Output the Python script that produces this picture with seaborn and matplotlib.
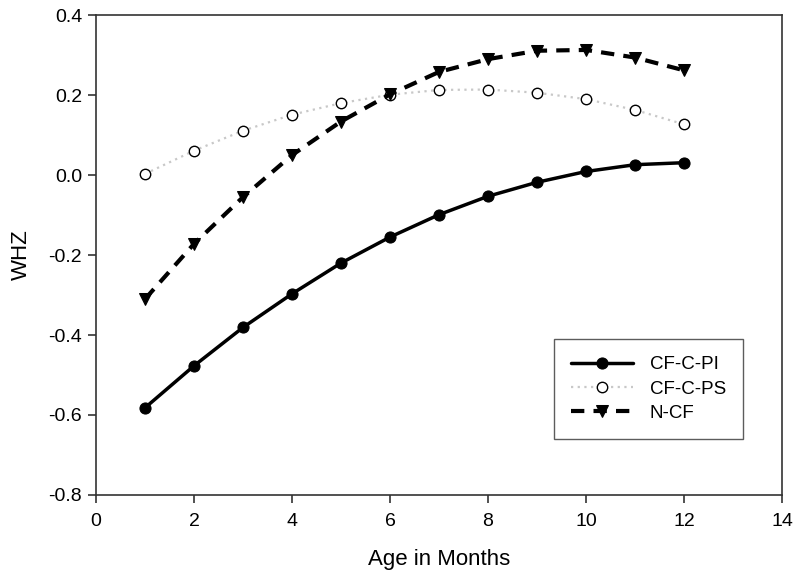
"""
WHZ by age in months for three groups
"""
import numpy as np
import pandas as pd
import matplotlib
matplotlib.use("Agg")
import matplotlib.pyplot as plt
import seaborn as sns

# Данные
age_months = [1, 2, 3, 4, 5, 6, 7, 8, 9, 10, 11, 12]
whz_cf_c_pi = [-0.582, -0.477, -0.381, -0.297, -0.220, -0.155, -0.099, -0.053, -0.018, 0.009, 0.026, 0.031]
whz_cf_c_ps = [0.003, 0.061, 0.111, 0.151, 0.180, 0.201, 0.213, 0.214, 0.206, 0.190, 0.163, 0.127]
whz_n_cf = [-0.310, -0.172, -0.055, 0.050, 0.134, 0.202, 0.258, 0.290, 0.311, 0.313, 0.294, 0.262]
group_names = ["CF-C-PI", "CF-C-PS", "N-CF"]
x_ticks = [0, 2, 4, 6, 8, 10, 12, 14]
y_ticks = [-0.8, -0.6, -0.4, -0.2, 0.0, 0.2, 0.4]

sns.set_style("ticks")
plt.rcParams["font.family"] = ["Liberation Sans", "DejaVu Sans"]
plt.rcParams["text.color"] = "black"
plt.rcParams["axes.labelcolor"] = "black"
plt.rcParams["xtick.color"] = "#333333"
plt.rcParams["ytick.color"] = "#333333"
plt.rcParams["xtick.labelcolor"] = "black"
plt.rcParams["ytick.labelcolor"] = "black"

fig, ax = plt.subplots(figsize=(8, 5.83), dpi=100)
fig.subplots_adjust(left=0.12, right=0.9775, top=0.974, bottom=0.151)

sns.lineplot(x=age_months, y=whz_cf_c_pi, ax=ax, color="black", linewidth=2.5,
             linestyle="-", marker="o", markersize=8, markerfacecolor="black",
             markeredgecolor="black", label=group_names[0])
sns.lineplot(x=age_months, y=whz_cf_c_ps, ax=ax, color="#c8c8c8", linewidth=1.6,
             linestyle=(0, (1, 2)), marker="o", markersize=7.5, markerfacecolor="white",
             markeredgecolor="black", markeredgewidth=1.0, label=group_names[1])
sns.lineplot(x=age_months, y=whz_n_cf, ax=ax, color="black", linewidth=3,
             linestyle=(0, (3.2, 2.2)), marker="v", markersize=9, markerfacecolor="black",
             markeredgecolor="black", label=group_names[2])

ax.set_xlim(0, 14)
ax.set_ylim(-0.8, 0.4)
ax.set_xticks(x_ticks)
ax.set_yticks(y_ticks)
ax.set_xticklabels([str(t) for t in x_ticks])
ax.set_yticklabels([f"{t:.1f}" for t in y_ticks])
ax.tick_params(axis="both", labelsize=14, direction="out", length=5.5, width=1.2,
               pad=4.5, top=False, right=False)
ax.tick_params(axis="x", pad=7.5)
ax.set_xlabel("Age in Months", fontsize=16, labelpad=14)
ax.set_ylabel("WHZ", fontsize=16, labelpad=12)

for side in ["left", "bottom", "top", "right"]:
    ax.spines[side].set_visible(True)
    ax.spines[side].set_linewidth(1.2)
    ax.spines[side].set_color("#333333")

leg = ax.legend(loc="lower left", bbox_to_anchor=(0.668, 0.117), fontsize=13.5,
                frameon=True, fancybox=False, edgecolor="#333333",
                handlelength=3.3, borderpad=0.9, labelspacing=0.38, handletextpad=0.9,
                borderaxespad=0)
leg.get_frame().set_linewidth(1.0)

plt.savefig("out.png", dpi=100)
